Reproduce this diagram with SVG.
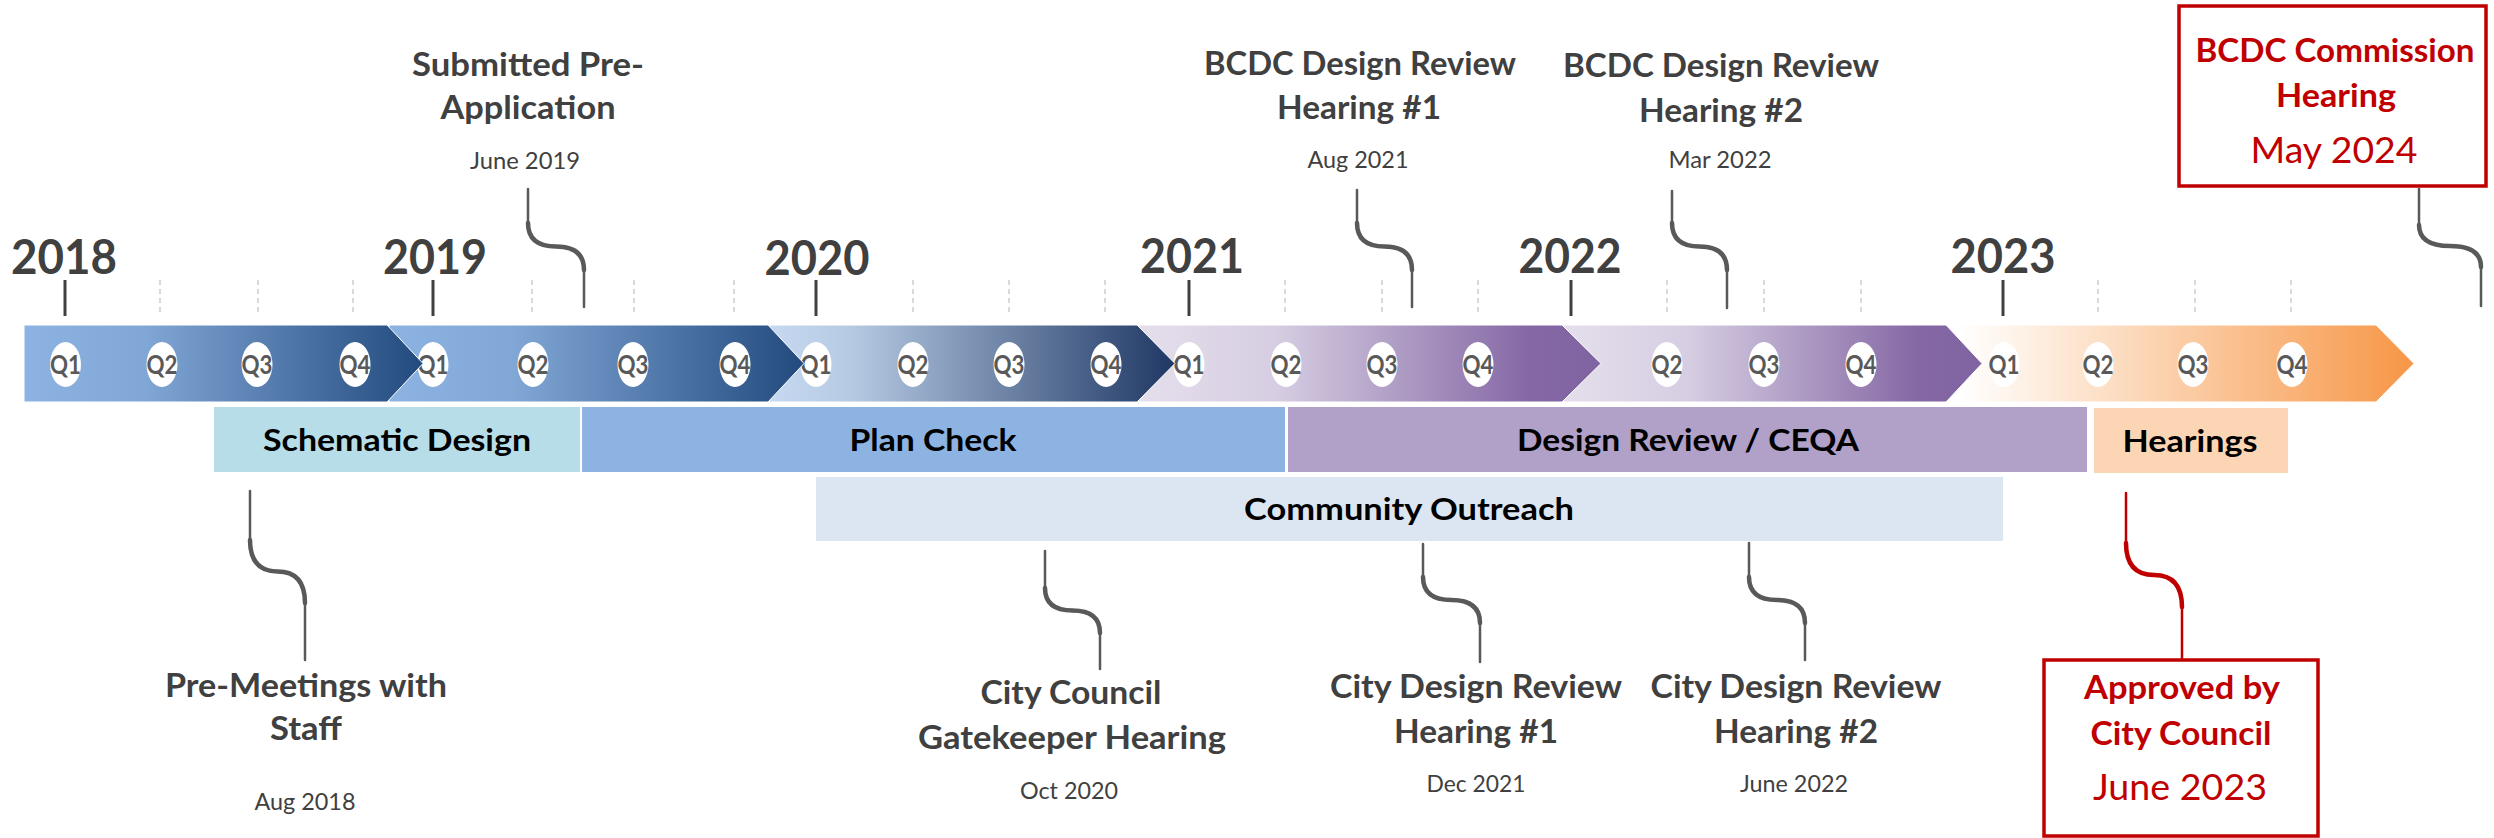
<svg xmlns="http://www.w3.org/2000/svg" width="2494" height="838" viewBox="0 0 2494 838">
  <style>
    text { font-family: Lato, "Open Sans", "Liberation Sans", sans-serif; text-anchor: middle; }
    .yr { font-size: 48px; font-weight: 700; fill: #404040; }
    .q { font-size: 26px; font-weight: 700; fill: #595959; }
    .ttl { font-size: 32px; font-weight: 700; fill: #404040; }
    .dt { font-size: 24px; font-weight: 400; fill: #404040; }
    .ph { font-size: 31px; font-weight: 700; fill: #000000; }
    .rt { font-size: 32px; font-weight: 700; fill: #C00000; }
    .rd { font-size: 37px; font-weight: 400; fill: #C00000; }
    .qc { fill: #FFFFFF; }
    .ytick { stroke: #404040; stroke-width: 3; }
    .qtick { stroke: #D9D9D9; stroke-width: 2; stroke-dasharray: 5 4; }
    .band { stroke: #FFFFFF; stroke-width: 1; }
    .lnk { fill: none; stroke: #595959; stroke-width: 2.5; stroke-linecap: round; }
    .bend { fill: none; stroke: #595959; stroke-width: 4.5; stroke-linecap: round; }
    .lnk.red, .bend.red { stroke: #C00000; }
    .redbox { fill: #FFFFFF; stroke: #C00000; stroke-width: 3.5; }
  </style>
  <defs>
    <linearGradient id="gBlue" x1="0" y1="0" x2="1" y2="0">
      <stop offset="0" stop-color="#8DB3E2"/>
      <stop offset="0.3" stop-color="#81A7D6"/>
      <stop offset="1" stop-color="#224A7E"/>
    </linearGradient>
    <linearGradient id="gNavy" x1="0" y1="0" x2="1" y2="0">
      <stop offset="0" stop-color="#C6D9F1"/>
      <stop offset="0.2" stop-color="#B6CAE3"/>
      <stop offset="1" stop-color="#1F3864"/>
    </linearGradient>
    <linearGradient id="gPurple" x1="0" y1="0" x2="1" y2="0">
      <stop offset="0" stop-color="#E5DFEC"/>
      <stop offset="0.3" stop-color="#D6CDE2"/>
      <stop offset="0.85" stop-color="#8467A4"/>
      <stop offset="1" stop-color="#8064A2"/>
    </linearGradient>
    <linearGradient id="gOrange" x1="0" y1="0" x2="1" y2="0">
      <stop offset="0" stop-color="#FFFFFF"/>
      <stop offset="0.35" stop-color="#FCDCC0"/>
      <stop offset="1" stop-color="#F79646"/>
    </linearGradient>
  </defs>

  <rect width="2494" height="838" fill="#FFFFFF"/>

  <!-- year labels -->
  <g id="years">
    <text class="yr" x="64" y="274" textLength="106" lengthAdjust="spacingAndGlyphs">2018</text>
    <text class="yr" x="435" y="274" textLength="104" lengthAdjust="spacingAndGlyphs">2019</text>
    <text class="yr" x="817" y="275" textLength="105" lengthAdjust="spacingAndGlyphs">2020</text>
    <text class="yr" x="1192" y="273" textLength="104" lengthAdjust="spacingAndGlyphs">2021</text>
    <text class="yr" x="1570" y="273" textLength="103" lengthAdjust="spacingAndGlyphs">2022</text>
    <text class="yr" x="2003" y="273" textLength="105" lengthAdjust="spacingAndGlyphs">2023</text>
  </g>

  <!-- year and quarter ticks -->
  <g id="ticks">
    <line class="ytick" x1="65" y1="280" x2="65" y2="316"/>
    <line class="ytick" x1="433" y1="280" x2="433" y2="316"/>
    <line class="ytick" x1="816" y1="280" x2="816" y2="316"/>
    <line class="ytick" x1="1189" y1="280" x2="1189" y2="316"/>
    <line class="ytick" x1="1571" y1="280" x2="1571" y2="316"/>
    <line class="ytick" x1="2003" y1="280" x2="2003" y2="316"/>
    <line class="qtick" x1="160" y1="280" x2="160" y2="316"/>
    <line class="qtick" x1="258" y1="280" x2="258" y2="316"/>
    <line class="qtick" x1="353" y1="280" x2="353" y2="316"/>
    <line class="qtick" x1="532" y1="280" x2="532" y2="316"/>
    <line class="qtick" x1="634" y1="280" x2="634" y2="316"/>
    <line class="qtick" x1="734" y1="280" x2="734" y2="316"/>
    <line class="qtick" x1="913" y1="280" x2="913" y2="316"/>
    <line class="qtick" x1="1009" y1="280" x2="1009" y2="316"/>
    <line class="qtick" x1="1105" y1="280" x2="1105" y2="316"/>
    <line class="qtick" x1="1285" y1="280" x2="1285" y2="316"/>
    <line class="qtick" x1="1382" y1="280" x2="1382" y2="316"/>
    <line class="qtick" x1="1478" y1="280" x2="1478" y2="316"/>
    <line class="qtick" x1="1667" y1="280" x2="1667" y2="316"/>
    <line class="qtick" x1="1764" y1="280" x2="1764" y2="316"/>
    <line class="qtick" x1="1861" y1="280" x2="1861" y2="316"/>
    <line class="qtick" x1="2098" y1="280" x2="2098" y2="316"/>
    <line class="qtick" x1="2195" y1="280" x2="2195" y2="316"/>
    <line class="qtick" x1="2291" y1="280" x2="2291" y2="316"/>
  </g>

  <!-- chevron bands, drawn last-to-first so each tip overlaps the next band -->
  <g id="band-2023">
    <path class="band" d="M1959 325 H2376 L2414 363.5 L2376 402 H1959 Z" fill="url(#gOrange)"/>
    <ellipse class="qc" cx="2004" cy="364.5" rx="15.5" ry="22.5"/>
    <ellipse class="qc" cx="2098" cy="364.5" rx="15.5" ry="22.5"/>
    <ellipse class="qc" cx="2193" cy="364.5" rx="15.5" ry="22.5"/>
    <ellipse class="qc" cx="2292" cy="364.5" rx="15.5" ry="22.5"/>
    <text class="q" x="2004" y="373.5" textLength="31" lengthAdjust="spacingAndGlyphs">Q1</text>
    <text class="q" x="2098" y="373.5" textLength="31" lengthAdjust="spacingAndGlyphs">Q2</text>
    <text class="q" x="2193" y="373.5" textLength="31" lengthAdjust="spacingAndGlyphs">Q3</text>
    <text class="q" x="2292" y="373.5" textLength="31" lengthAdjust="spacingAndGlyphs">Q4</text>
  </g>
  <g id="band-2022">
    <path class="band" d="M1563 325 H1946 L1982 363.5 L1946 402 H1563 Z" fill="url(#gPurple)"/>
    <ellipse class="qc" cx="1667" cy="364.5" rx="15.5" ry="22.5"/>
    <ellipse class="qc" cx="1764" cy="364.5" rx="15.5" ry="22.5"/>
    <ellipse class="qc" cx="1861" cy="364.5" rx="15.5" ry="22.5"/>
    <text class="q" x="1667" y="373.5" textLength="31" lengthAdjust="spacingAndGlyphs">Q2</text>
    <text class="q" x="1764" y="373.5" textLength="31" lengthAdjust="spacingAndGlyphs">Q3</text>
    <text class="q" x="1861" y="373.5" textLength="31" lengthAdjust="spacingAndGlyphs">Q4</text>
  </g>
  <g id="band-2021">
    <path class="band" d="M1138 325 H1562 L1601 363.5 L1562 402 H1138 Z" fill="url(#gPurple)"/>
    <ellipse class="qc" cx="1189" cy="364.5" rx="15.5" ry="22.5"/>
    <ellipse class="qc" cx="1286" cy="364.5" rx="15.5" ry="22.5"/>
    <ellipse class="qc" cx="1382" cy="364.5" rx="15.5" ry="22.5"/>
    <ellipse class="qc" cx="1478" cy="364.5" rx="15.5" ry="22.5"/>
    <text class="q" x="1189" y="373.5" textLength="31" lengthAdjust="spacingAndGlyphs">Q1</text>
    <text class="q" x="1286" y="373.5" textLength="31" lengthAdjust="spacingAndGlyphs">Q2</text>
    <text class="q" x="1382" y="373.5" textLength="31" lengthAdjust="spacingAndGlyphs">Q3</text>
    <text class="q" x="1478" y="373.5" textLength="31" lengthAdjust="spacingAndGlyphs">Q4</text>
  </g>
  <g id="band-2020">
    <path class="band" d="M769 325 H1137 L1175 363.5 L1137 402 H769 Z" fill="url(#gNavy)"/>
    <ellipse class="qc" cx="816" cy="364.5" rx="15.5" ry="22.5"/>
    <ellipse class="qc" cx="913" cy="364.5" rx="15.5" ry="22.5"/>
    <ellipse class="qc" cx="1009" cy="364.5" rx="15.5" ry="22.5"/>
    <ellipse class="qc" cx="1106" cy="364.5" rx="15.5" ry="22.5"/>
    <text class="q" x="816" y="373.5" textLength="31" lengthAdjust="spacingAndGlyphs">Q1</text>
    <text class="q" x="913" y="373.5" textLength="31" lengthAdjust="spacingAndGlyphs">Q2</text>
    <text class="q" x="1009" y="373.5" textLength="31" lengthAdjust="spacingAndGlyphs">Q3</text>
    <text class="q" x="1106" y="373.5" textLength="31" lengthAdjust="spacingAndGlyphs">Q4</text>
  </g>
  <g id="band-2019">
    <path class="band" d="M389 325 H768 L804 363.5 L768 402 H389 Z" fill="url(#gBlue)"/>
    <ellipse class="qc" cx="433" cy="364.5" rx="15.5" ry="22.5"/>
    <ellipse class="qc" cx="533" cy="364.5" rx="15.5" ry="22.5"/>
    <ellipse class="qc" cx="633" cy="364.5" rx="15.5" ry="22.5"/>
    <ellipse class="qc" cx="735" cy="364.5" rx="15.5" ry="22.5"/>
    <text class="q" x="433" y="373.5" textLength="31" lengthAdjust="spacingAndGlyphs">Q1</text>
    <text class="q" x="533" y="373.5" textLength="31" lengthAdjust="spacingAndGlyphs">Q2</text>
    <text class="q" x="633" y="373.5" textLength="31" lengthAdjust="spacingAndGlyphs">Q3</text>
    <text class="q" x="735" y="373.5" textLength="31" lengthAdjust="spacingAndGlyphs">Q4</text>
  </g>
  <g id="band-2018">
    <path class="band" d="M24 325 H387 L423 363.5 L387 402 H24 Z" fill="url(#gBlue)"/>
    <ellipse class="qc" cx="65.5" cy="364.5" rx="15.5" ry="22.5"/>
    <ellipse class="qc" cx="162" cy="364.5" rx="15.5" ry="22.5"/>
    <ellipse class="qc" cx="257" cy="364.5" rx="15.5" ry="22.5"/>
    <ellipse class="qc" cx="355" cy="364.5" rx="15.5" ry="22.5"/>
    <text class="q" x="65.5" y="373.5" textLength="31" lengthAdjust="spacingAndGlyphs">Q1</text>
    <text class="q" x="162" y="373.5" textLength="31" lengthAdjust="spacingAndGlyphs">Q2</text>
    <text class="q" x="257" y="373.5" textLength="31" lengthAdjust="spacingAndGlyphs">Q3</text>
    <text class="q" x="355" y="373.5" textLength="31" lengthAdjust="spacingAndGlyphs">Q4</text>
  </g>

  <!-- project phases -->
  <g id="phase-schematic">
    <rect x="214" y="407" width="366" height="65" fill="#B7DEE8"/>
    <text class="ph" x="397" y="451" textLength="268" lengthAdjust="spacingAndGlyphs">Schematic Design</text>
  </g>
  <g id="phase-plan-check">
    <rect x="582" y="407" width="703" height="65" fill="#8DB3E2"/>
    <text class="ph" x="933" y="451" textLength="167" lengthAdjust="spacingAndGlyphs">Plan Check</text>
  </g>
  <g id="phase-design-review">
    <rect x="1288" y="407" width="799" height="65" fill="#B1A0C7"/>
    <text class="ph" x="1688" y="451" textLength="342" lengthAdjust="spacingAndGlyphs">Design Review / CEQA</text>
  </g>
  <g id="phase-hearings">
    <rect x="2094" y="408" width="194" height="65" fill="#FCD5B5"/>
    <text class="ph" x="2190" y="452" textLength="135" lengthAdjust="spacingAndGlyphs">Hearings</text>
  </g>
  <g id="phase-outreach">
    <rect x="816" y="477" width="1187" height="64" fill="#DCE6F2"/>
    <text class="ph" x="1409" y="520" textLength="330" lengthAdjust="spacingAndGlyphs">Community Outreach</text>
  </g>

  <!-- leader lines from milestones to the timeline -->
  <g id="connectors">
    <path class="lnk" d="M528 189 V223 Q528 246.5 556 246.5 Q584 246.5 584 270 V307"/>
    <path class="bend" d="M528 223 Q528 246.5 556 246.5 Q584 246.5 584 270"/>
    <path class="lnk" d="M1357 190 V223 Q1357 246.5 1384.5 246.5 Q1412 246.5 1412 270 V307"/>
    <path class="bend" d="M1357 223 Q1357 246.5 1384.5 246.5 Q1412 246.5 1412 270"/>
    <path class="lnk" d="M1672 191 V223 Q1672 246.5 1699.5 246.5 Q1727 246.5 1727 270 V308"/>
    <path class="bend" d="M1672 223 Q1672 246.5 1699.5 246.5 Q1727 246.5 1727 270"/>
    <path class="lnk" d="M2419 189 V225 Q2419 246 2450 246 Q2481 246 2481 267 V306"/>
    <path class="bend" d="M2419 225 Q2419 246 2450 246 Q2481 246 2481 267"/>
    <path class="lnk" d="M250 491 V540 Q250 571.5 277.5 571.5 Q305 571.5 305 603 V660"/>
    <path class="bend" d="M250 540 Q250 571.5 277.5 571.5 Q305 571.5 305 603"/>
    <path class="lnk" d="M1045 551 V588 Q1045 610.5 1072.5 610.5 Q1100 610.5 1100 633 V669"/>
    <path class="bend" d="M1045 588 Q1045 610.5 1072.5 610.5 Q1100 610.5 1100 633"/>
    <path class="lnk" d="M1423 544 V577 Q1423 600 1451.5 600 Q1480 600 1480 623 V662"/>
    <path class="bend" d="M1423 577 Q1423 600 1451.5 600 Q1480 600 1480 623"/>
    <path class="lnk" d="M1749 543 V577 Q1749 600 1777 600 Q1805 600 1805 623 V660"/>
    <path class="bend" d="M1749 577 Q1749 600 1777 600 Q1805 600 1805 623"/>
    <path class="lnk red" d="M2126 493 V543 Q2126 575 2154 575 Q2182 575 2182 607 V660"/>
    <path class="bend red" d="M2126 543 Q2126 575 2154 575 Q2182 575 2182 607"/>
  </g>

  <!-- milestones above the timeline -->
  <g id="ms-pre-application">
    <text class="ttl" x="528" y="76" textLength="232" lengthAdjust="spacingAndGlyphs">Submitted Pre-</text>
    <text class="ttl" x="528" y="119" textLength="175" lengthAdjust="spacingAndGlyphs">Application</text>
    <text class="dt" x="525" y="169" textLength="110" lengthAdjust="spacingAndGlyphs">June 2019</text>
  </g>
  <g id="ms-bcdc-review-1">
    <text class="ttl" x="1360" y="75" textLength="312" lengthAdjust="spacingAndGlyphs">BCDC Design Review</text>
    <text class="ttl" x="1359" y="119" textLength="164" lengthAdjust="spacingAndGlyphs">Hearing #1</text>
    <text class="dt" x="1358" y="168" textLength="101" lengthAdjust="spacingAndGlyphs">Aug 2021</text>
  </g>
  <g id="ms-bcdc-review-2">
    <text class="ttl" x="1721" y="77" textLength="316" lengthAdjust="spacingAndGlyphs">BCDC Design Review</text>
    <text class="ttl" x="1721" y="122" textLength="164" lengthAdjust="spacingAndGlyphs">Hearing #2</text>
    <text class="dt" x="1720" y="168" textLength="103" lengthAdjust="spacingAndGlyphs">Mar 2022</text>
  </g>
  <g id="ms-bcdc-commission">
    <rect class="redbox" x="2179" y="6" width="307" height="180"/>
    <text class="rt" x="2335" y="62" textLength="279" lengthAdjust="spacingAndGlyphs">BCDC Commission</text>
    <text class="rt" x="2336" y="107" textLength="120" lengthAdjust="spacingAndGlyphs">Hearing</text>
    <text class="rd" x="2334" y="163" textLength="167" lengthAdjust="spacingAndGlyphs">May 2024</text>
  </g>

  <!-- milestones below the timeline -->
  <g id="ms-pre-meetings">
    <text class="ttl" x="306" y="697" textLength="282" lengthAdjust="spacingAndGlyphs">Pre-Meetings with</text>
    <text class="ttl" x="306" y="740" textLength="72" lengthAdjust="spacingAndGlyphs">Staff</text>
    <text class="dt" x="305" y="810" textLength="101" lengthAdjust="spacingAndGlyphs">Aug 2018</text>
  </g>
  <g id="ms-gatekeeper">
    <text class="ttl" x="1071" y="704" textLength="181" lengthAdjust="spacingAndGlyphs">City Council</text>
    <text class="ttl" x="1072" y="749" textLength="308" lengthAdjust="spacingAndGlyphs">Gatekeeper Hearing</text>
    <text class="dt" x="1069" y="799" textLength="98" lengthAdjust="spacingAndGlyphs">Oct 2020</text>
  </g>
  <g id="ms-city-review-1">
    <text class="ttl" x="1476" y="698" textLength="292" lengthAdjust="spacingAndGlyphs">City Design Review</text>
    <text class="ttl" x="1476" y="743" textLength="164" lengthAdjust="spacingAndGlyphs">Hearing #1</text>
    <text class="dt" x="1476" y="792" textLength="99" lengthAdjust="spacingAndGlyphs">Dec 2021</text>
  </g>
  <g id="ms-city-review-2">
    <text class="ttl" x="1796" y="698" textLength="291" lengthAdjust="spacingAndGlyphs">City Design Review</text>
    <text class="ttl" x="1796" y="743" textLength="164" lengthAdjust="spacingAndGlyphs">Hearing #2</text>
    <text class="dt" x="1794" y="792" textLength="108" lengthAdjust="spacingAndGlyphs">June 2022</text>
  </g>
  <g id="ms-council-approval">
    <rect class="redbox" x="2044" y="660" width="274" height="176"/>
    <text class="rt" x="2182" y="699" textLength="196" lengthAdjust="spacingAndGlyphs">Approved by</text>
    <text class="rt" x="2181" y="745" textLength="181" lengthAdjust="spacingAndGlyphs">City Council</text>
    <text class="rd" x="2180" y="800" textLength="174" lengthAdjust="spacingAndGlyphs">June 2023</text>
  </g>
</svg>
